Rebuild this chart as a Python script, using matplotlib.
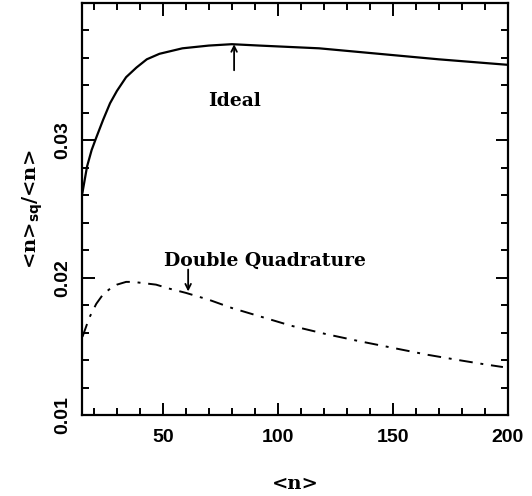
import numpy as np
import matplotlib
matplotlib.use('Agg')
import matplotlib.pyplot as plt
from matplotlib.ticker import MultipleLocator

# curves
n_ideal = [15, 17, 19, 21, 24, 27, 30, 34, 38.5, 43, 48.5, 58.5, 70, 80, 92, 105, 118, 131, 144, 157, 170, 185, 200]
r_ideal = [0.0262, 0.0281, 0.0293, 0.0302, 0.0315, 0.0327, 0.0336, 0.0346, 0.0353, 0.0359, 0.0363, 0.0367,
           0.0369, 0.0370, 0.0369, 0.0368, 0.0367, 0.0365, 0.0363, 0.0361, 0.0359, 0.0357, 0.0355]

n_dq = [15, 18, 21, 24, 27, 30, 34, 37, 42, 47, 53, 60, 70, 80, 92, 106, 121, 135, 150, 165, 179, 190, 198]
r_dq = [0.0157, 0.0171, 0.0181, 0.0188, 0.0192, 0.0195, 0.0197, 0.0197, 0.0196, 0.0195, 0.0192, 0.0189,
        0.0184, 0.0178, 0.0172, 0.0165, 0.0159, 0.0154, 0.0149, 0.0144, 0.0140, 0.0137, 0.0135]

xticks = [50, 100, 150, 200]
yticks = [0.01, 0.02, 0.03]

plt.rcParams['mathtext.fontset'] = 'custom'
plt.rcParams['mathtext.sf'] = 'DejaVu Sans:bold'
plt.rcParams['mathtext.rm'] = 'DejaVu Serif:bold'

fig = plt.figure(figsize=(5.32, 4.96), dpi=100)
ax = fig.add_axes([0.155, 0.163, 0.799, 0.831])

ax.plot(n_ideal, r_ideal, color='black', lw=1.6)
ax.plot(n_dq, r_dq, color='black', lw=1.4, dashes=(7, 4, 1.5, 4))

ax.set_xlim(15, 200)
ax.set_ylim(0.01, 0.04)
ax.set_xticks(xticks)
ax.set_yticks(yticks)
ax.xaxis.set_minor_locator(MultipleLocator(10))
ax.yaxis.set_minor_locator(MultipleLocator(0.002))
ax.tick_params(which='both', direction='in', top=True, right=True, width=1.4)
ax.tick_params(which='major', length=9)
ax.tick_params(which='minor', length=5)
ax.tick_params(axis='x', pad=10)
ax.tick_params(axis='y', pad=8)
for s in ax.spines.values():
    s.set_linewidth(1.6)

tfont = dict(family='Liberation Sans', weight='bold', size=14)
ax.set_xticklabels([str(v) for v in xticks], **tfont)
ax.set_yticklabels(['%.2f' % v for v in yticks], rotation=90, va='center', **tfont)

lfont = dict(family='DejaVu Serif', weight='bold', size=14)
sfont = dict(family='DejaVu Serif', weight='bold', size=13.5)
ax.set_xlabel('<n>', labelpad=21, **lfont)
ax.set_ylabel(r'<n>$_{\mathsf{sq}}$$\mathbf{/}$<n>', labelpad=7, **lfont)

ax.annotate('', xy=(81, 0.0372), xytext=(81, 0.0349),
            arrowprops=dict(arrowstyle='->', color='black', lw=1.3))
ax.text(81, 0.0329, 'Ideal', ha='center', va='center', **sfont)

ax.annotate('', xy=(61, 0.0188), xytext=(61, 0.0208),
            arrowprops=dict(arrowstyle='->', color='black', lw=1.3))
ax.text(94.6, 0.0212, 'Double Quadrature', ha='center', va='center', **sfont)

fig.savefig('out.png', dpi=100)
